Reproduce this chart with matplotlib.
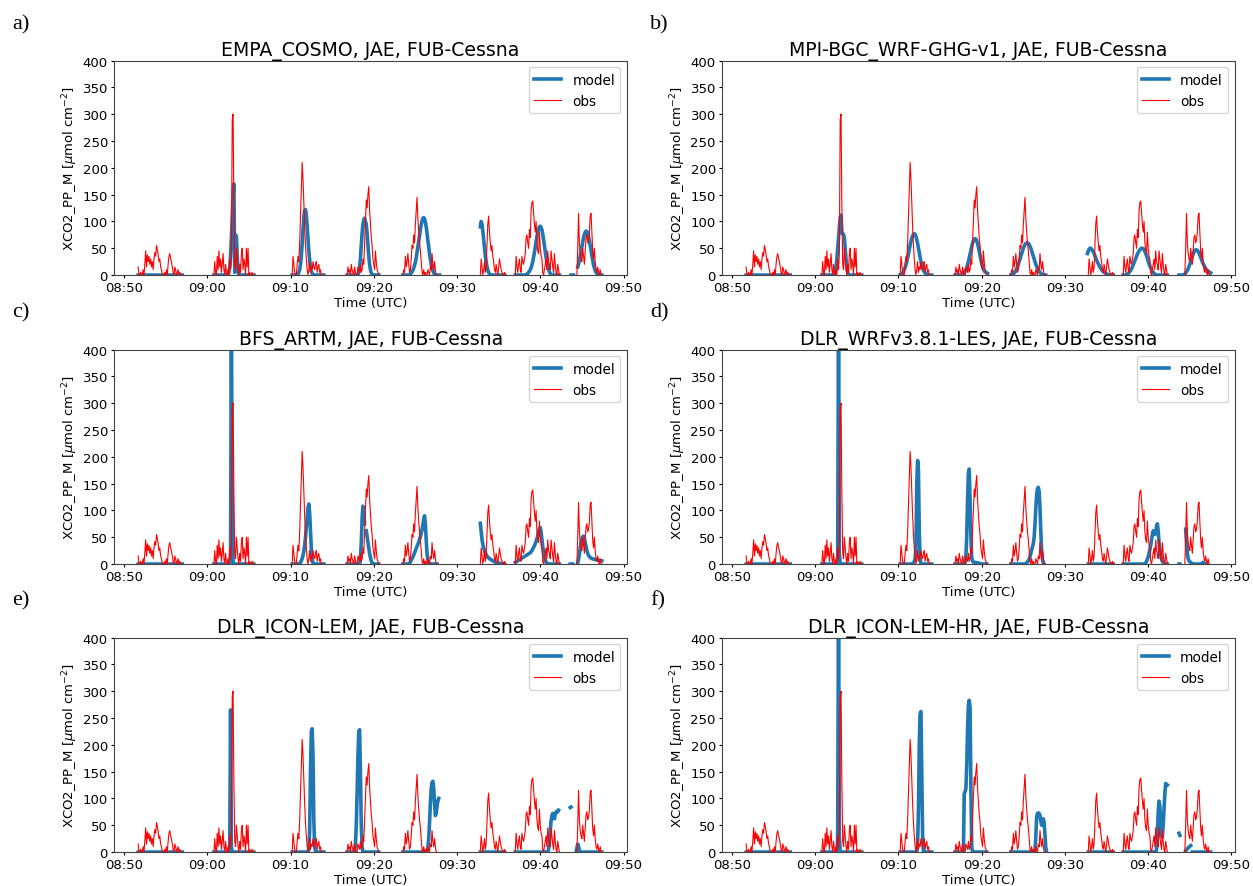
#-----------------------------------------------------
#--------XCO2 plume: model vs. aircraft obs-----------
#-----------------------------------------------------

import numpy as np
import matplotlib.pyplot as plt

#time axis: minutes after 08:50 UTC, every series sampled each 0.1 min
dt = 0.1
tick_minutes = [0, 10, 20, 30, 40, 50, 60]
tick_labels = ['08:50', '09:00', '09:10', '09:20', '09:30', '09:40', '09:50']
y_ticks = [0, 50, 100, 150, 200, 250, 300, 350, 400]

#-----------------Observations (FUB-Cessna)-----------
obs_l1 = [15, 0, 0, 5, 0, 0, 10, 0, 20, 45, 15, 38, 25, 35, 20, 30, 15, 25, 10, 30, 42, 35, 55, 48,
          38, 25, 30, 15, 10, 0, 0, 0, 5, 0, 10, 0, 20, 35, 40, 30, 25, 15, 5, 0, 15, 10, 0, 5, 10, 0,
          5, 0, 0, 0]
obs_l2 = [0, 25, 5, 0, 35, 10, 45, 15, 30, 5, 20, 40, 10, 0, 20, 5, 0, 10, 0, 30, 10, 40, 290, 300,
          130, 20, 10, 50, 30, 10, 0, 20, 5, 40, 50, 10, 30, 20, 0, 50, 15, 50, 0, 5, 0, 0, 5, 0, 0]
obs_l3 = [0, 35, 20, 5, 0, 0, 20, 35, 25, 60, 110, 165, 210, 180, 135, 90, 55, 30, 10, 0, 10, 25, 5,
          15, 10, 25, 15, 10, 20, 25, 5, 15, 20, 5, 10, 0, 0, 0, 0]
obs_l4 = [0, 15, 5, 10, 0, 20, 10, 5, 0, 15, 5, 0, 0, 15, 10, 5, 20, 5, 10, 30, 20, 60, 105, 140, 125,
          150, 165, 120, 95, 70, 55, 30, 20, 10, 45, 25, 10, 5, 0]
obs_l5 = [0, 10, 5, 35, 15, 25, 40, 20, 5, 10, 30, 55, 50, 75, 60, 95, 120, 145, 105, 80, 60, 45, 25,
          5, 0, 10, 0, 5, 0, 0, 10, 5, 0, 15, 10, 40, 20, 10, 25, 10, 0, 0]
obs_l6 = [0, 30, 15, 0, 10, 25, 5, 15, 55, 95, 110, 80, 60, 45, 55, 35, 25, 10, 5, 20, 10, 0, 15, 30,
          20, 10, 5, 0, 0, 5, 0, 0]
obs_l7 = [0, 35, 15, 5, 20, 30, 10, 5, 35, 25, 20, 30, 40, 70, 75, 60, 50, 85, 70, 120, 135, 138, 115,
          95, 80, 100, 60, 45, 40, 80, 50, 35, 30, 5, 0, 10, 20, 30, 10, 45, 25, 20, 10, 45, 30, 15, 5,
          40, 20, 5, 0, 20, 10, 0]
obs_l8 = [0, 50, 115, 60, 40, 30, 25, 50, 35, 20, 45, 70, 75, 60, 65, 80, 110, 115, 80, 45, 30, 50, 25,
          10, 5, 15, 5, 0, 10, 0, 0]

obs_segments = [(1.7, obs_l1), (10.8, obs_l2), (20.2, obs_l3), (26.8, obs_l4),
                (33.5, obs_l5), (42.8, obs_l6), (47.0, obs_l7), (54.4, obs_l8)]

#-----------------Model runs (start minute, values)---
empa_cosmo = [
    (1.7, [0]*54),
    (10.8, [0]*17 + [0, 5, 15, 35, 70, 110, 150, 170, 5, 75, 72, 35, 8, 0] + [0]*18),
    (20.2, [0]*6 + [0, 2, 5, 10, 20, 36, 58, 85, 108, 120, 122, 112, 92, 68, 45, 28, 15, 7, 3, 1, 0] + [0]*12),
    (26.8, [0]*13 + [0, 5, 15, 32, 55, 78, 95, 103, 106, 100, 95, 78, 55, 35, 20, 10, 4, 1, 0] + [0]*7),
    (33.5, [0]*8 + [0, 2, 4, 6, 9, 13, 18, 24, 32, 42, 52, 63, 74, 85, 94, 101, 106, 107, 105, 99, 90, 78,
                    65, 52, 40, 29, 20, 13, 8, 4, 2, 0] + [0]*5),
    (42.8, [90, 100, 95, 82, 66, 50, 36, 25, 16, 9, 5, 2, 0] + [0]*17),
    (47.0, [0]*14 + [2, 3, 5, 7, 10, 14, 19, 25, 33, 42, 52, 62, 72, 80, 86, 90, 91, 89, 84, 76, 66, 55, 44,
                     33, 24, 16, 10, 6, 3, 1, 0] + [0]*9),
    (53.7, [0, 0, 0, 0]),
    (54.5, [15, 20, 27, 35, 44, 53, 62, 70, 76, 80, 82, 81, 78, 72, 64, 55, 45, 36, 27, 19, 13, 8, 5, 3, 1,
            0, 0, 0, 0, 0]),
]

mpi_wrf = [
    (1.7, [0]*54),
    (10.8, [0]*15 + [0, 5, 15, 30, 50, 72, 92, 108, 112, 80, 77, 76, 70, 50, 30, 15, 5, 0] + [0]*16),
    (20.2, [0] + [0, 2, 4, 7, 10, 14, 19, 25, 32, 40, 48, 56, 63, 69, 73, 76, 77, 76, 72, 66, 59, 50, 41, 33,
                  25, 18, 13, 9, 6, 4, 2, 1, 0] + [0]*5),
    (26.8, [0]*9 + [0, 2, 4, 7, 10, 14, 19, 25, 32, 39, 46, 53, 59, 64, 67, 68, 67, 64, 59, 52, 44, 36, 28,
                    21, 15, 11, 8, 6, 5, 4, 3]),
    (33.5, [0] + [0, 1, 2, 4, 6, 9, 12, 16, 20, 25, 30, 35, 40, 45, 50, 54, 57, 59, 60, 60, 59, 57, 54, 50,
                  45, 40, 35, 30, 25, 20, 16, 12, 9, 7, 5, 3, 2, 1, 1, 0, 0] + [0]),
    (42.7, [40, 45, 48, 50, 50, 48, 46, 43, 40, 36, 32, 28, 24, 21, 18, 15, 12, 10, 8, 6, 5, 4, 3, 2, 1, 1,
            0, 0, 0, 0, 0, 0]),
    (47.0, [0]*4 + [1, 2, 3, 5, 7, 9, 12, 15, 19, 23, 27, 31, 35, 39, 42, 45, 47, 49, 50, 50, 49, 47, 44, 40,
                    36, 31, 26, 21, 17, 13, 10, 7, 5, 3, 2, 1, 0, 0] + [0]*12),
    (53.7, [0]*5 + [0, 1, 2, 4, 6, 9, 12, 16, 20, 25, 30, 35, 39, 43, 45, 47, 47, 46, 44, 41, 37, 33, 29, 25,
                    21, 18, 15, 12, 10, 8, 7, 6, 5, 4]),
]

bfs_artm = [
    (1.7, [0]*54),
    (10.8, [0]*19 + [0, 10, 480, 60, 5, 0] + [0]*24),
    (20.2, [0]*8 + [0, 1, 3, 6, 10, 16, 24, 35, 50, 68, 88, 105, 112, 95, 60, 28, 8, 2, 0] + [0]*12),
    (26.8, [0]*15 + [0, 10, 40, 85, 108, 100, 75, np.nan, 62, 52, 40, 30, 20, 12, 6, 2, 0] + [0]*7),
    (33.5, [0]*8 + [1, 4, 7, 10, 13, 17, 21, 25, 29, 33, 37, 41, 46, 51, 57, 64, 73, 84, 90, 75, 45, 20, 7,
                    2, 0] + [0]*9),
    (42.8, [76, 60, 46, 37, 30, 25, 21, 18, 15, 13, 11, 10, 9, 8, 7, 6, 5, 4, 4, 3, 3, 2, 2, 1, 1, 1, 0, 0,
            0, 0]),
    (47.0, [3, 4, 5, 6, 7, 8, 9, 10, 11, 12, 13, 14, 15, 16, 17, 18, 19, 20, 21, 23, 25, 28, 31, 34, 38, 42,
            47, 53, 60, 66, 68, 60, 45, 32, 22, 14, 8, 4, 1, 0] + [0]*14),
    (53.6, [0, 0, 0, 0]),
    (54.5, [2, 8, 18, 30, 40, 47, 51, 52, 48, 40, 32, 25, 20, 16, 14, 12, 11, 10, 10, 9, 9, 8, 8, 8, 7, 7,
            7, 6, 6, 6]),
]

dlr_wrf_les = [
    (1.7, [0]*54),
    (10.8, [0]*19 + [10, 480, 20, 0] + [0]*26),
    (20.2, [0]*16 + [2, 5, 10, 30, 150, 193, 175, 60, 10, 0] + [0]*13),
    (26.8, [0]*11 + [0, 3, 15, 50, 120, 170, 177, 120, 50, 12, 5, 4, 3, 3, 3, 2, 2, 2, 1, 1, 0] + [0]*7),
    (33.5, [0]*18 + [1, 2, 4, 6, 9, 14, 20, 27, 32, 38, 50, 75, 105, 130, 141, 143, 135, 105, 60, 25, 8, 2, 0]),
    (42.8, [0]*31),
    (47.0, [0]*27 + [2, 5, 9, 14, 20, 27, 35, 45, 55, 62, 58, 55, 60, 70, 75, 62, 40, 25, 15, 9, 5, 3, 1, 0]
     + [0]*3),
    (53.7, [0, 0]),
    (54.5, [65, 40, 20, 10, 6, 4, 3, 2, 1, 0, 0, 0, 0, 0, 0, 0, 0, 0, 0, 0, 2, 3, 1, 0, 0, 0]),
]

dlr_icon_lem = [
    (1.7, [0]*54),
    (10.8, [0]*19 + [5, 265, 10, 0] + [0]*26),
    (20.2, [0]*19 + [0, 5, 40, 150, 225, 230, 180, 60, 10, 2, 0] + [0]*9),
    (26.8, [0]*8 + [0, 3, 15, 50, 110, 180, 225, 228, 150, 50, 10, 0] + [0]*19),
    (33.5, [0]*29 + [2, 8, 25, 55, 90, 118, 130, 132, 120, 90, 68, 72, 85, 95, 100]),
    (42.8, [0]*30),
    (47.0, [0]*40 + [5, 20, 40, 58, 68, 72, 70, 62, 70, 75, 76, 75, 78]),
    (53.6, [83, 84]),
    (54.3, [0, 8, 15, 10, 3, 0] + [0]*26),
]

dlr_icon_lem_hr = [
    (1.7, [0]*54),
    (10.8, [0]*19 + [30, 480, 30, 0] + [0]*26),
    (20.2, [0]*20 + [0, 15, 80, 200, 258, 262, 150, 30, 0] + [0]*10),
    (26.8, [0]*10 + [0, 110, 112, 118, 160, 230, 275, 283, 270, 120, 10, 0] + [0]*17),
    (33.5, [0]*29 + [0, 30, 65, 72, 73, 72, 68, 58, 50, 55, 62, 55, 30, 8, 0]),
    (42.8, [0]*31),
    (47.0, [0]*40 + [5, 35, 75, 95, 85, 55, 32, 28, 50, 80, 110, 128, 126, 125]),
    (53.7, [35, 31]),
    (54.5, [2, 4, 6, 8, 9, 11, 12]),
    (55.3, [0]*23),
]

panel_titles = ['EMPA_COSMO, JAE, FUB-Cessna', 'MPI-BGC_WRF-GHG-v1, JAE, FUB-Cessna',
                'BFS_ARTM, JAE, FUB-Cessna', 'DLR_WRFv3.8.1-LES, JAE, FUB-Cessna',
                'DLR_ICON-LEM, JAE, FUB-Cessna', 'DLR_ICON-LEM-HR, JAE, FUB-Cessna']
panel_models = [empa_cosmo, mpi_wrf, bfs_artm, dlr_wrf_les, dlr_icon_lem, dlr_icon_lem_hr]
panel_letters = ['a)', 'b)', 'c)', 'd)', 'e)', 'f)']


#joining flight legs into one line, NaN between legs
def join_segments(segments):
    ts, ys = [], []
    for t0, vals in segments:
        ts.extend(t0 + dt * np.arange(len(vals)))
        ys.extend(vals)
        ts.append(np.nan)
        ys.append(np.nan)
    return np.array(ts, dtype=float), np.array(ys, dtype=float)


obs_t, obs_y = join_segments(obs_segments)

#-------------------Figure----------------------------
fig = plt.figure(figsize=(12.53, 8.87), dpi=100)

col_x = [0.0910, 0.5762]
col_w = 0.4096
row_y = [0.6888, 0.3630, 0.0383]
row_h = 0.2418
letter_x = [0.0096, 0.5188]
letter_y = [0.9718, 0.6470, 0.3222]

for i in range(6):
    r, c = divmod(i, 2)
    ax = fig.add_axes([col_x[c], row_y[r], col_w, row_h])
    mod_t, mod_y = join_segments(panel_models[i])
    ax.plot(mod_t, mod_y, color='#1f77b4', lw=2.6, label='model')
    ax.plot(obs_t, obs_y, color='red', lw=0.8, label='obs')

    ax.set_xlim(-1.2, 60.45)
    ax.set_ylim(0, 400)
    ax.set_xticks(tick_minutes)
    ax.set_xticklabels(tick_labels)
    ax.set_yticks(y_ticks)
    ax.tick_params(labelsize=9.5, length=2.4, pad=2)
    for s in ax.spines.values():
        s.set_color('#444444')

    ax.set_title(panel_titles[i], fontsize=13.6, pad=4)
    ax.set_xlabel('Time (UTC)', fontsize=9.5, labelpad=1)
    ax.set_ylabel(r'XCO2_PP_M [$\mu$mol cm$^{-2}$]', fontsize=9.5, labelpad=2)
    ax.legend(loc='upper right', fontsize=9.8)

    fig.text(letter_x[c], letter_y[r], panel_letters[i], fontsize=16,
             family=['Liberation Serif', 'DejaVu Serif'], va='center', ha='left')

fig.savefig('out.png', dpi=100)
